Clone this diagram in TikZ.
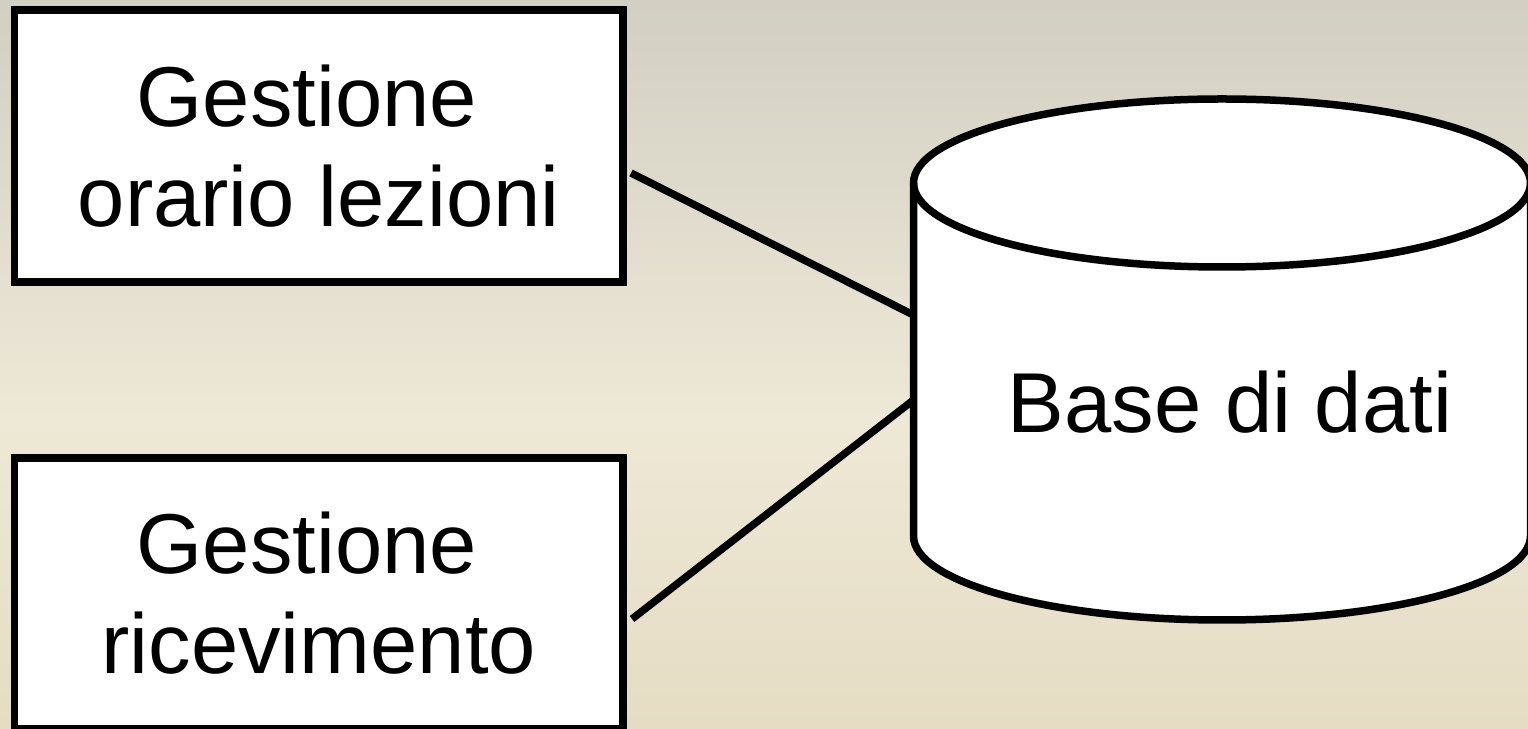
\documentclass[tikz,border=0pt]{standalone}
\usepackage{fontspec}
\setmainfont{Liberation Sans}
\definecolor{bgtop}{RGB}{210,207,195}
\definecolor{bgmid}{RGB}{238,232,214}
\definecolor{bgbot}{RGB}{229,220,195}
\begin{document}
\begin{tikzpicture}[x=1pt,y=1pt,
  line width=7.5pt,
  boxnode/.style={draw=black,fill=white,line width=7.5pt,minimum width=608.5pt,
    inner sep=0pt,align=center,font=\fontsize{85}{100}\selectfont},
  lbl/.style={inner sep=0pt,font=\fontsize{85}{100}\selectfont},
  conn/.style={draw=black,line width=7.5pt}]
\useasboundingbox (0,0) rectangle (1528,728);
% background
\shade[top color=bgtop,bottom color=bgmid,draw=none] (0,728) rectangle (1528,308);
\shade[top color=bgmid,bottom color=bgbot,draw=none] (0,308.5) rectangle (1528,0);
% boxes
\node[boxnode,minimum height=272pt] (b1) at (318.75,582) {Gestione\hspace*{0.278em}\\orario lezioni};
\node[boxnode,minimum height=271pt] (b2) at (318.75,134.5) {Gestione\hspace*{0.278em}\\ricevimento};
% connector ends
\coordinate (a1) at (631,555);
\coordinate (c1) at (913.5,413);
\coordinate (a2) at (632,109);
\coordinate (c2) at (913.5,328);
\draw[conn] (a1) -- (c1);
\draw[conn] (a2) -- (c2);
% cylinder
\begin{scope}
\clip (0,0) rectangle (1528,728);
\filldraw[fill=white,draw=black,line join=round]
  (913.5,545) -- (913.5,192)
  arc[start angle=180,end angle=360,x radius=308.5pt,y radius=84pt]
  -- (1530.5,545)
  arc[start angle=0,end angle=180,x radius=308.5pt,y radius=84pt] -- cycle;
\draw[black] (913.5,545) arc[start angle=180,end angle=360,x radius=308.5pt,y radius=84pt];
\end{scope}
\node[lbl] (db) at (1230,326) {Base di dati};
\end{tikzpicture}
\end{document}
